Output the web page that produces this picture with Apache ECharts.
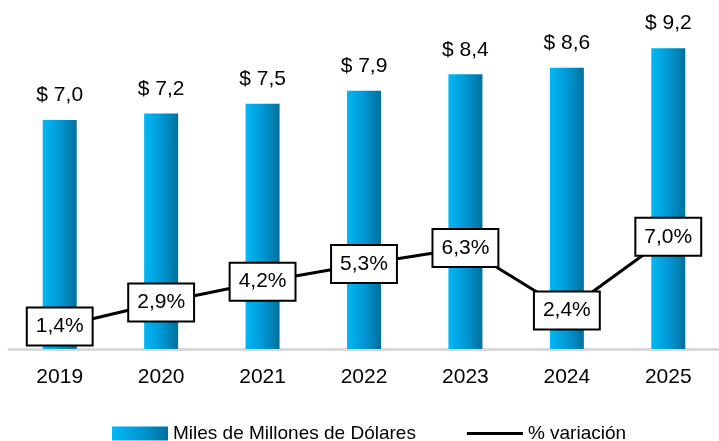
<!DOCTYPE html>
<html>
<head>
<meta charset="utf-8">
<script src="https://cdn.jsdelivr.net/npm/echarts@6/dist/echarts.min.js"></script>
<style>
  html, body { margin: 0; padding: 0; background: #fff; }
  #chart { width: 719px; height: 441px; }
</style>
</head>
<body>
<div id="chart"></div>
<script>
const years = ["2019", "2020", "2021", "2022", "2023", "2024", "2025"];
const billions = [7.0, 7.2, 7.5, 7.9, 8.4, 8.6, 9.2];
const variation = [1.4, 2.9, 4.2, 5.3, 6.3, 2.4, 7.0];

const FONT = "'Liberation Sans', Arial, sans-serif";
const comma = v => v.toFixed(1).replace(".", ",");

const chart = echarts.init(document.getElementById("chart"));

const barColor = new echarts.graphic.LinearGradient(0, 0, 1, 0, [
  { offset: 0, color: "#00b8f4" },
  { offset: 0.5, color: "#0099d6" },
  { offset: 1, color: "#00709c" }
]);

const option = {
  animation: false,
  textStyle: { fontFamily: FONT },
  grid: { left: 9, right: 0, top: 22, bottom: 92 },
  legend: {
    top: 419,
    left: 107,
    itemWidth: 56,
    itemHeight: 14,
    itemGap: 51,
    textStyle: { fontSize: 19, color: "#000", fontFamily: FONT },
    data: [
      { name: "Miles de Millones de Dólares", icon: "rect" },
      { name: "% variación", icon: "path://M0,0 L56,0 L56,3 L0,3 Z" }
    ]
  },
  xAxis: {
    type: "category",
    data: years,
    axisLine: { lineStyle: { color: "#d9d9d9", width: 3 } },
    axisTick: { show: false },
    axisLabel: { fontSize: 21, color: "#000", margin: 18, fontFamily: FONT }
  },
  yAxis: [
    { type: "value", min: 0, max: 10, show: false, splitLine: { show: false } },
    { type: "value", min: 0, max: 20.4, show: false, splitLine: { show: false } }
  ],
  series: [
    {
      name: "Miles de Millones de Dólares",
      type: "bar",
      data: billions,
      barWidth: 34,
      itemStyle: { color: barColor },
      label: {
        show: true,
        position: "top",
        distance: 14,
        fontSize: 21,
        color: "#000",
        fontFamily: FONT,
        formatter: p => "$ " + comma(p.value)
      }
    },
    {
      name: "% variación",
      type: "line",
      yAxisIndex: 1,
      data: variation,
      symbol: "circle",
      symbolSize: 1,
      lineStyle: { color: "#000", width: 3 },
      itemStyle: { color: "#000" },
      label: {
        show: true,
        position: "inside",
        fontSize: 21,
        color: "#000",
        fontFamily: FONT,
        backgroundColor: "#fff",
        borderColor: "#000",
        borderWidth: 2,
        padding: [8, 8, 7, 8],
        formatter: p => comma(p.value) + "%"
      },
      z: 5
    }
  ]
};

chart.setOption(option);
</script>
</body>
</html>
